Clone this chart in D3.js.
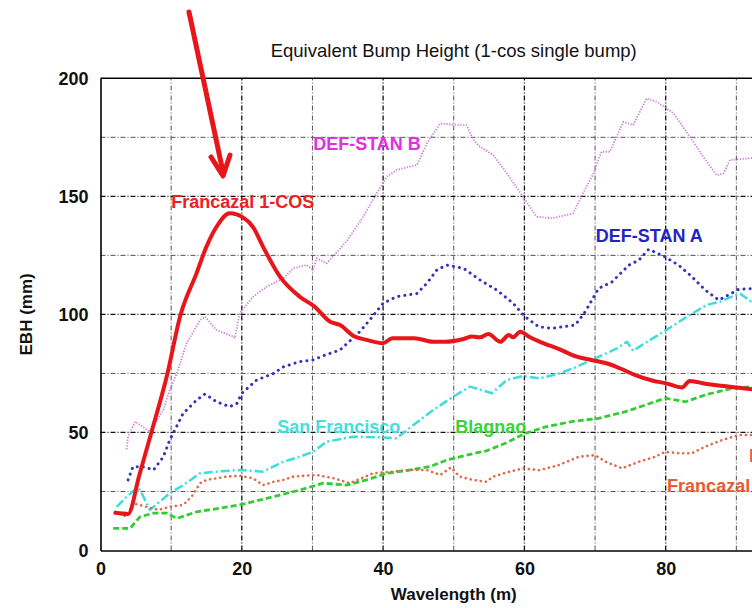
<!DOCTYPE html>
<html>
<head>
<meta charset="utf-8">
<script src="https://cdn.jsdelivr.net/npm/d3@7"></script>
<style>
  body { margin: 0; background: #fff; }
  svg { display: block; font-family: "Liberation Sans", Arial, sans-serif; }
</style>
</head>
<body>
<div id="my_dataviz"></div>
<script>
// values (x = wavelength m, y = EBH mm)
var frCosX = [2.1, 3.9, 5.5, 7.2, 9.4, 11.3, 13.6, 15.0, 16.4, 18.3, 20.2, 21.6, 23.0, 25.4, 28.2, 30.3, 32.5, 33.9, 35.8, 37.7, 40.0, 41.3, 44.4, 47.1, 48.8, 51.4, 52.6, 53.7, 54.9, 56.6, 57.8, 58.4, 59.4, 60.8, 62.2, 65.0, 67.4, 69.5, 71.6, 73.5, 75.7, 78.2, 80.1, 82.3, 83.4, 85.8, 88.2, 90.0, 92.5];
var frCosY = [16, 15.5, 32, 50, 74, 99.5, 117.5, 128.7, 137, 142.8, 141, 137, 128.7, 116, 107.5, 103.3, 96.9, 95.5, 90.9, 89.2, 87.8, 89.9, 89.9, 88.4, 88.4, 89.6, 90.6, 90.3, 91.7, 88.4, 91.3, 90.3, 92.7, 90.3, 88.4, 85.2, 82.1, 80.7, 79.3, 77.2, 74.3, 71.9, 70.8, 69, 71.8, 70.5, 69.7, 69, 68.2];

var stanBX = [3.7, 3.9, 4.9, 7.0, 8.9, 9.8, 10.8, 12.2, 14.1, 14.8, 16.4, 18.8, 19.0, 19.7, 21.6, 23.5, 25.9, 27.3, 28.2, 29.2, 30.1, 30.6, 32.0, 34.8, 37.2, 39.1, 40.5, 41.9, 44.8, 46.2, 48.1, 50.9, 51.8, 52.8, 53.7, 55.6, 57.5, 59.8, 61.7, 63.9, 66.9, 68.3, 69.8, 70.9, 72.1, 74.0, 75.4, 77.3, 78.7, 81.1, 83.4, 85.3, 87.2, 88.2, 89.1, 91.9, 92.6];
var stanBY = [42.9, 48.2, 54.6, 50.3, 59.5, 68, 75, 87.8, 97.6, 99, 93.4, 90.6, 89.9, 100.5, 107.5, 111.7, 115.3, 119.5, 120.2, 120.9, 118.8, 123.8, 121.6, 130.8, 141.4, 151.3, 158.3, 161.2, 163.3, 172.5, 180.9, 180.2, 180.2, 173.9, 171, 167.5, 159.8, 149.9, 141.4, 140.7, 142.8, 151.3, 159.8, 168.9, 168.9, 181.6, 180.2, 191.5, 190.1, 185.2, 175.3, 166.8, 159, 159.8, 165.4, 166.1, 166.3];

var stanAX = [3.9, 4.6, 6.1, 7.5, 8.9, 9.8, 11.7, 13.6, 14.8, 16.4, 18.3, 19.3, 20.0, 22.1, 24.5, 25.9, 28.2, 30.1, 31.8, 33.9, 36.7, 38.1, 40.0, 41.9, 44.8, 46.2, 47.6, 49.0, 51.4, 53.7, 56.1, 58.4, 60.1, 62.0, 63.9, 67.2, 68.6, 70.5, 72.4, 74.8, 76.2, 77.6, 79.9, 81.8, 83.7, 85.6, 87.5, 88.9, 90.3, 92.5];
var stanAY = [29.9, 35.5, 35.5, 34.1, 39.7, 46.8, 58.1, 63.7, 66.3, 63, 60.9, 62.3, 66.6, 72.2, 75, 77.8, 80, 80.7, 82.8, 84.9, 92.7, 97.6, 104.7, 107.5, 108.9, 113.2, 118.8, 120.9, 119.5, 114.6, 110.3, 104.7, 99, 94.8, 94.1, 95.5, 101.1, 111, 113.8, 120.9, 123, 127.6, 124.4, 120.9, 116, 110.3, 106.1, 108.2, 110.6, 111];

var sfoX = [2.3, 3.7, 5.1, 5.6, 7.0, 9.8, 11.7, 14.1, 16.4, 19.7, 23.0, 25.9, 28.2, 30.1, 32.0, 35.8, 40.0, 41.9, 44.3, 47.1, 49.9, 52.3, 55.4, 57.5, 59.8, 62.2, 65.0, 67.4, 69.5, 73.1, 74.5, 75.4, 77.8, 80.1, 83.0, 85.8, 87.7, 90.5, 92.5];
var sfoY = [18.5, 22.8, 26.3, 25.6, 17.2, 24.2, 27.7, 32.7, 33.4, 34.1, 33.4, 37.6, 39.7, 41.8, 46.1, 48.2, 47.9, 47.5, 53.2, 59.5, 65.1, 69.4, 66.6, 72.2, 73.9, 72.9, 75, 77.8, 80.7, 85.6, 88.4, 84.6, 89.2, 93.4, 99, 104, 105.4, 108.9, 104.5];

var blagX = [1.8, 4.2, 5.6, 7.5, 9.4, 10.8, 13.6, 16.9, 19.7, 22.6, 25.4, 28.2, 31.5, 34.8, 37.7, 40.5, 43.8, 46.6, 49.0, 51.8, 54.6, 57.3, 60.1, 63.0, 66.7, 70.5, 74.3, 77.1, 79.9, 82.8, 85.6, 88.4, 89.6, 92.5];
var blagY = [9.4, 9.4, 14.3, 15.8, 15.8, 13.6, 16.4, 17.9, 19.3, 21.4, 23.5, 25.6, 28.5, 27.7, 29.9, 32.7, 34.1, 35.5, 38.3, 40.4, 42.2, 45.4, 49.6, 52.4, 54.6, 56, 58.8, 61.6, 64.5, 63, 65.9, 68, 68.7, 69.5];

var frX = [2.1, 3.7, 4.6, 6.5, 8.2, 9.8, 11.7, 12.9, 14.1, 15.0, 17.9, 19.7, 21.6, 23.0, 24.5, 25.9, 27.3, 30.6, 33.0, 35.3, 38.6, 41.4, 43.8, 46.2, 48.1, 49.6, 50.8, 52.7, 54.6, 55.6, 57.4, 59.8, 62.1, 64.9, 67.7, 70.0, 71.5, 73.8, 76.2, 78.5, 79.9, 81.8, 83.7, 85.6, 88.0, 90.3, 92.5];
var frY = [16.4, 14.3, 20, 18.5, 17.2, 18.5, 19.3, 22.8, 28.5, 29.9, 31.3, 31.6, 30.6, 27.7, 29.1, 29.9, 31.3, 32, 30.6, 28.5, 32.7, 33.4, 34.1, 34.1, 32, 35.2, 31.3, 29.9, 29.1, 31.3, 33, 34.8, 34, 36.2, 39.7, 40.4, 37.6, 34.8, 37.6, 39.7, 41.8, 41.2, 41.2, 44, 46.8, 48.9, 48.9];

var xTicks = [0, 20, 40, 60, 80];
var yTicks = [0, 50, 100, 150, 200];

var labelNames = ["DEF-STAN B", "Francazal 1-COS", "DEF-STAN A", "San Francisco", "Blagnao", "Francazal", "Francazal 1-COS"];
var labelX = [30.1, 10.0, 70.1, 25.0, 50.2, 80.2, 91.8];
var labelY = [172.2, 147.8, 133.2, 52.4, 52.4, 27.3, 40.0];

// series table built from the arrays above
var series = [
  {xs: stanBX, ys: stanBY, color: "#cf72dc", width: 1.8, dash: "1.2,1.6", cap: "butt", smooth: false},
  {xs: stanAX, ys: stanAY, color: "#3434b4", width: 3, dash: "0.1,6", cap: "round", smooth: false},
  {xs: sfoX,   ys: sfoY,   color: "#3fdcdc", width: 2.5, dash: "9,3,2,3", cap: "butt", smooth: false},
  {xs: blagX,  ys: blagY,  color: "#33cc33", width: 2.8, dash: "6,3", cap: "butt", smooth: false},
  {xs: frX,    ys: frY,    color: "#e2684a", width: 2.6, dash: "0.1,5", cap: "round", smooth: false},
  {xs: frCosX, ys: frCosY, color: "#e8151b", width: 4, dash: null, cap: "round", smooth: true}
];
var labelColors = ["#e22ee2", "#ee2020", "#2424c4", "#44dede", "#36d436", "#ea5a30", "#ff5050"];

var W = 752, H = 608;

var svg = d3.select("#my_dataviz")
  .append("svg")
    .attr("width", W)
    .attr("height", H);

var x = d3.scaleLinear().domain([0, 100]).range([100.5, 807]);
var y = d3.scaleLinear().domain([0, 200]).range([550.5, 78.3]);

svg.append("defs").append("clipPath")
    .attr("id", "plotclip")
  .append("rect")
    .attr("x", x(0))
    .attr("y", y(200))
    .attr("width", x(100) - x(0))
    .attr("height", y(0) - y(200));

// grid
var grid = svg.append("g");
d3.range(10, 100, 10).forEach(function(v) {
  var major = v % 20 == 0;
  grid.append("line")
    .attr("x1", x(v)).attr("x2", x(v))
    .attr("y1", y(0)).attr("y2", y(200))
    .attr("stroke", major ? "#111" : "#555")
    .attr("stroke-width", major ? 1.3 : 1)
    .attr("stroke-dasharray", "5,2,1,2");
});
d3.range(25, 200, 25).forEach(function(v) {
  var major = v % 50 == 0;
  grid.append("line")
    .attr("x1", x(0)).attr("x2", W)
    .attr("y1", y(v)).attr("y2", y(v))
    .attr("stroke", major ? "#111" : "#555")
    .attr("stroke-width", major ? 1.3 : 1)
    .attr("stroke-dasharray", "5,2,1,2");
});

// labels (drawn under the curves, gridlines run through them)
svg.append("g").selectAll("text")
  .data(labelNames)
  .enter()
  .append("text")
    .attr("x", function(d, i) { return x(labelX[i]); })
    .attr("y", function(d, i) { return y(labelY[i]); })
    .attr("dy", "0.35em")
    .attr("fill", function(d, i) { return labelColors[i]; })
    .style("font-size", "18px")
    .style("font-weight", "bold")
    .text(function(d) { return d; });

var line = d3.line()
  .x(function(d) { return x(d[0]); })
  .y(function(d) { return y(d[1]); });

svg.append("g")
    .attr("clip-path", "url(#plotclip)")
  .selectAll("path")
  .data(series)
  .enter()
  .append("path")
    .attr("d", function(s) {
      line.curve(s.smooth ? d3.curveMonotoneX : d3.curveLinear);
      return line(d3.zip(s.xs, s.ys));
    })
    .attr("fill", "none")
    .attr("stroke", function(s) { return s.color; })
    .attr("stroke-width", function(s) { return s.width; })
    .attr("stroke-dasharray", function(s) { return s.dash; })
    .attr("stroke-linecap", function(s) { return s.cap; })
    .attr("stroke-linejoin", "round");

// frame
svg.append("line")
  .attr("x1", x(0)).attr("x2", W).attr("y1", y(200)).attr("y2", y(200))
  .attr("stroke", "#000").attr("stroke-width", 1.5);

var xAxis = svg.append("g")
  .attr("transform", "translate(0," + y(0) + ")")
  .call(d3.axisBottom(x).tickValues(xTicks).tickSize(0).tickPadding(12));
var yAxis = svg.append("g")
  .attr("transform", "translate(" + x(0) + ",0)")
  .call(d3.axisLeft(y).tickValues(yTicks).tickSize(0).tickPadding(12));

[xAxis, yAxis].forEach(function(a) {
  a.select(".domain").attr("stroke", "#000").attr("stroke-width", 1.6);
  a.selectAll("text")
    .attr("fill", "#111")
    .style("font-family", "'Liberation Sans', Arial, sans-serif")
    .style("font-size", "18px")
    .style("font-weight", "bold");
});

// titles
svg.append("text")
  .attr("x", x(50)).attr("y", 57)
  .attr("text-anchor", "middle")
  .attr("fill", "#111")
  .style("font-size", "18.5px")
  .text("Equivalent Bump Height (1-cos single bump)");

svg.append("text")
  .attr("x", x(50)).attr("y", 600)
  .attr("text-anchor", "middle")
  .attr("fill", "#111")
  .style("font-size", "17px")
  .style("font-weight", "bold")
  .text("Wavelength (m)");

svg.append("text")
  .attr("transform", "translate(32," + y(100) + ")rotate(-90)")
  .attr("text-anchor", "middle")
  .attr("fill", "#111")
  .style("font-size", "17px")
  .style("font-weight", "bold")
  .text("EBH (mm)");

// red arrow pointing at the peak
svg.append("polyline")
  .attr("points", "189,12 223,172")
  .attr("fill", "none")
  .attr("stroke", "#e8151b")
  .attr("stroke-width", 5)
  .attr("stroke-linecap", "round");
svg.append("polyline")
  .attr("points", "211,157 223,176 230,155")
  .attr("fill", "none")
  .attr("stroke", "#e8151b")
  .attr("stroke-width", 5)
  .attr("stroke-linecap", "round")
  .attr("stroke-linejoin", "round");
</script>
</body>
</html>
